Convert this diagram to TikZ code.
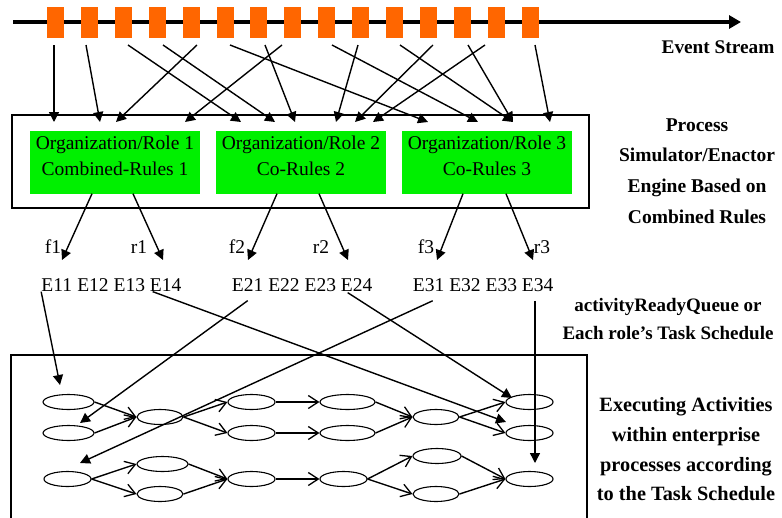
\documentclass[tikz,border=0pt]{standalone}
\usepackage{fontspec}
\setmainfont{Liberation Serif}
\usetikzlibrary{arrows.meta,calc,shapes.geometric}
\definecolor{evorange}{RGB}{255,102,0}
\definecolor{rolegreen}{RGB}{0,240,0}
\begin{document}
\begin{tikzpicture}[x=1pt,y=-1pt,
  txt/.style={font=\fontsize{19.5}{26}\selectfont, inner sep=0pt},
  lbl/.style={align=center, inner sep=0pt},
  evbox/.style={fill=evorange, draw=none, minimum width=17pt, minimum height=31pt, inner sep=0pt},
  rolebox/.style={fill=rolegreen, draw=none, minimum width=170pt, minimum height=63pt, inner sep=0pt, align=center, font=\fontsize{19.5}{26}\selectfont, text depth=12pt},
  act/.style={draw, ellipse, line width=1.1pt, minimum height=15pt, inner sep=0pt},
  feed/.style={line width=1.4pt, -{Triangle[length=10pt,width=10pt]}},
  flow/.style={line width=1.4pt, -{Straight Barb[length=10pt,width=13pt,line width=1.3pt]}},
  frame/.style={line width=1.2pt},
]
\useasboundingbox (0,0) rectangle (782,517);
\fill[white] (0,0) rectangle (782,517);

% event stream
\coordinate (es0) at (13,22);
\coordinate (es1) at (741,22);
\draw[line width=4pt, -{Triangle[length=12pt,width=13pt]}] (es0) -- (es1);
\foreach \i in {0,...,14} \node[evbox] (q\i) at ({55.5+33.9*\i},22) {};
\node[lbl, font=\fontsize{19.3}{24}\selectfont\bfseries] (labstream) at (718,47) {Event Stream};

% engine frame and role boxes
\node[draw, frame, minimum width=577pt, minimum height=93pt, inner sep=0pt] (engine) at (300.5,161.5) {};
\node[rolebox] (role1) at (115,162) {Organization/Role 1\\Combined-Rules 1};
\node[rolebox] (role2) at (301,162) {Organization/Role 2\\Co-Rules 2};
\node[rolebox] (role3) at (487,162) {Organization/Role 3\\Co-Rules 3};

% arrows from event stream into engine
\foreach \a/\b [count=\k] in {54/54, 86/100, 128/241, 163/275, 197/116, 230/428, 265/295, 282/185, 332/478, 358/336, 400/513, 433/355, 468/513, 485/373, 535/550} {
  \coordinate (s\k) at (\a,45);
  \coordinate (t\k) at (\b,122);
  \draw[feed] (s\k) -- (t\k);
}

\node[lbl, font=\fontsize{19.5}{30.7}\selectfont\bfseries] (labengine) at (697,171) {Process\\Simulator/Enactor\\Engine Based on\\Combined Rules};

% f / r arrows
\coordinate (f1e) at (62,260);
\coordinate (r1e) at (163,260);
\coordinate (f2e) at (248,260);
\coordinate (r2e) at (348,260);
\coordinate (f3e) at (437,260);
\coordinate (r3e) at (533,260);
\draw[feed] ([xshift=-23pt]role1.south) -- (f1e);
\draw[feed] ([xshift=18pt]role1.south) -- (r1e);
\draw[feed] ([xshift=-24pt]role2.south) -- (f2e);
\draw[feed] ([xshift=18pt]role2.south) -- (r2e);
\draw[feed] ([xshift=-24pt]role3.south) -- (f3e);
\draw[feed] ([xshift=19pt]role3.south) -- (r3e);
\node[txt] (lf1) at (53,247) {f1};
\node[txt] (lr1) at (139,247) {r1};
\node[txt] (lf2) at (237,247) {f2};
\node[txt] (lr2) at (321,247) {r2};
\node[txt] (lf3) at (426,247) {f3};
\node[txt] (lr3) at (542,247) {r3};

% E labels
\foreach \n/\x in {11/56.7, 12/93.0, 13/129.3, 14/165.6, 21/247.7, 22/284, 23/320.3, 24/356.6, 31/428.7, 32/465, 33/501.3, 34/537.6}
  \node[txt] (e\n) at (\x,285) {E\n};

\node[lbl, font=\fontsize{19}{28}\selectfont\bfseries] (labqueue) at (668,319) {activityReadyQueue or\\Each role’s Task Schedule};

% execution frame
\draw[frame] (11,520) -- (11,355) -- (587,355) -- (587,520);

% activities, first process
\node[act, minimum width=51pt] (a1) at (68.5,402) {};
\node[act, minimum width=51pt] (a2) at (68.5,433) {};
\node[act, minimum width=46pt] (m1) at (160,417) {};
\node[act, minimum width=47pt] (b1) at (251.5,402) {};
\node[act, minimum width=47pt] (b2) at (251.5,433) {};
\node[act, minimum width=55pt] (c1) at (347.5,402) {};
\node[act, minimum width=55pt] (c2) at (347.5,433) {};
\node[act, minimum width=46pt] (m2) at (436,417) {};
\node[act, minimum width=47pt] (d1) at (529.5,402) {};
\node[act, minimum width=47pt] (d2) at (529.5,433) {};
% second process
\node[act, minimum width=47pt] (p0) at (67.5,479) {};
\node[act, minimum width=51pt] (g1) at (162.5,464) {};
\node[act, minimum width=46pt] (g2) at (160,494) {};
\node[act, minimum width=47pt] (h0) at (251.5,479) {};
\node[act, minimum width=47pt] (i0) at (343.5,479) {};
\node[act, minimum width=48pt] (j1) at (437,456) {};
\node[act, minimum width=46pt] (j2) at (436,494) {};
\node[act, minimum width=47pt] (k0) at (529.5,479) {};

\draw[flow] (a1.east) -- (m1.west);
\draw[flow] (a2.east) -- (m1.west);
\draw[flow] (m1.east) -- (b1.west);
\draw[flow] (m1.east) -- (b2.west);
\draw[flow] (b1.east) -- (c1.west);
\draw[flow] (b2.east) -- (c2.west);
\draw[flow] (c1.east) -- (m2.west);
\draw[flow] (c2.east) -- (m2.west);
\draw[flow] (m2.east) -- (d1.west);
\draw[flow] (m2.east) -- (d2.west);

\draw[flow] (p0.east) -- (g1.west);
\draw[flow] (p0.east) -- (g2.west);
\draw[flow] (g1.east) -- (h0.west);
\draw[flow] (g2.east) -- (h0.west);
\draw[flow] (h0.east) -- (i0.west);
\draw[flow] (i0.east) -- (j1.west);
\draw[flow] (i0.east) -- (j2.west);
\draw[flow] (j1.east) -- (k0.west);
\draw[flow] (j2.east) -- (k0.west);

% dispatch from E labels to activities
\coordinate (x11) at (60,385);
\coordinate (x14) at (506,422);
\coordinate (x21) at (80,423);
\coordinate (x24) at (512,398);
\coordinate (x31) at (80,463);
\coordinate (x34) at (535,463);
\draw[feed] (e11.south west) -- (x11);
\draw[feed] ($(e14.south west)+(3,0)$) -- (x14);
\draw[feed] ($(e21.south)+(0,9)$) -- (x21);
\draw[feed] ($(e24.south west)+(7,1)$) -- (x24);
\draw[feed] ($(e31.south)+(4,9)$) -- (x31);
\draw[feed] ($(e34.south)+(-2.6,9)$) -- (x34);

\node[lbl, font=\fontsize{20.3}{29.7}\selectfont\bfseries] (labexec) at (686,449.5) {Executing Activities\\within enterprise\\processes according\\to the Task Schedule};
\end{tikzpicture}
\end{document}
